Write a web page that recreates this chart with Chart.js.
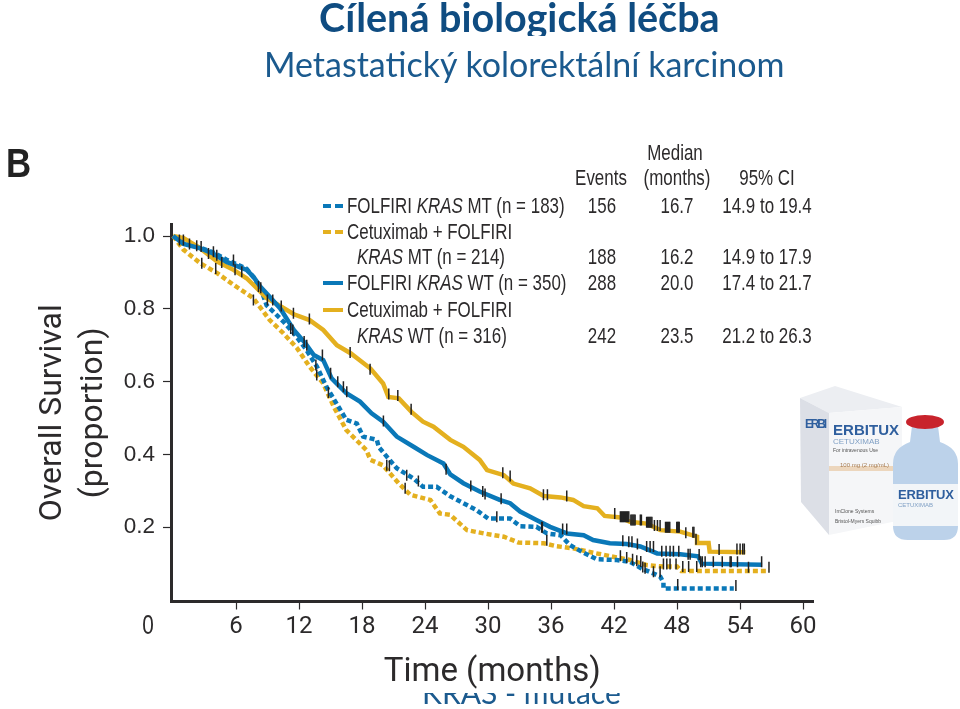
<!DOCTYPE html>
<html lang="cs">
<head>
<meta charset="utf-8">
<title>Cílená biologická léčba</title>
<script src="https://cdn.jsdelivr.net/npm/chart.js@4"></script>
<style>
  html, body { margin: 0; padding: 0; background: #fff; overflow: hidden; }
  #page { position: relative; width: 960px; height: 709px; overflow: hidden; }
  #chart { position: absolute; left: 0; top: 0; }
  .clip { position: absolute; overflow: hidden; white-space: nowrap; }
  .head { font-family: Lato, sans-serif; color: #0f4c81; }
  .txt { position: absolute; white-space: nowrap; font-family: "Liberation Sans", sans-serif; font-size: 22px; line-height: 24px; color: #2c2a2b; transform-origin: left center; transform: translateY(-50%) scaleX(.77); }
  .mid { transform-origin: center center; transform: translate(-50%, -50%) scaleX(.77); }
  .swatch { position: absolute; width: 20px; height: 0; }
</style>
</head>
<body>
<div id="page">
  <canvas id="chart" width="960" height="709"></canvas>

  <div class="clip head" style="left:319px;top:0;width:420px;height:36px;font-size:39.5px;font-weight:700;line-height:34px;">Cílená biologická léčba</div>
  <div class="clip head" style="left:264px;top:42px;width:540px;height:46px;font-size:34px;line-height:44px;color:#1b5a8e;">Metastatický kolorektální karcinom</div>
  <div class="clip head" style="left:422px;top:693px;width:200px;height:12px;"><span style="position:absolute;left:0;top:-18px;font-size:30px;line-height:34px;color:#1b5a8e;">KRAS - mutace</span></div>

  <div class="txt" style="left:6px;top:163px;font-weight:700;font-size:41px;line-height:44px;color:#222;transform:translateY(-50%) scaleX(.85);">B</div>

  <div id="legend"></div>

  <svg style="position:absolute;left:790px;top:380px;" width="170" height="170" viewBox="0 0 170 170">
    <polygon points="10,18 45,6 112,27 39,33" fill="#eceef2"/>
    <polygon points="10,18 39,33 39,155 11,122" fill="#dcdfe6"/>
    <polygon points="39,33 112,27 112,140 39,155" fill="#f5f6f8"/>
    <rect x="39" y="86" width="73" height="5" fill="#ecd6bd"/>
    <text x="15" y="48" font-family="Liberation Sans, sans-serif" font-weight="700" font-size="12" fill="#2f5f9e" textLength="22">ERBI</text>
    <text x="43" y="55" font-family="Liberation Sans, sans-serif" font-weight="700" font-size="15" fill="#2f5f9e" textLength="66">ERBITUX</text>
    <text x="43" y="64" font-family="Liberation Sans, sans-serif" font-size="8" fill="#7f9fc4">CETUXIMAB</text>
    <text x="43" y="72" font-family="Liberation Sans, sans-serif" font-size="5" fill="#555">For intravenous Use</text>
    <text x="50" y="87" font-family="Liberation Sans, sans-serif" font-size="6" fill="#a67c52">100 mg (2 mg/mL)</text>
    <text x="45" y="133" font-family="Liberation Sans, sans-serif" font-size="5" fill="#555">ImClone Systems</text>
    <text x="45" y="143" font-family="Liberation Sans, sans-serif" font-size="5" fill="#555">Bristol-Myers Squibb</text>
    <path d="M122 46 L148 46 L150 62 Q168 68 168 84 L168 146 Q168 160 154 160 L118 160 Q103 160 103 146 L103 84 Q103 68 120 62 Z" fill="#bcd2ea"/>
    <rect x="103" y="104" width="65" height="42" fill="#f2f5f8"/>
    <text x="108" y="119" font-family="Liberation Sans, sans-serif" font-weight="700" font-size="13" fill="#2f5f9e" textLength="56">ERBITUX</text>
    <text x="108" y="127" font-family="Liberation Sans, sans-serif" font-size="6" fill="#7f9fc4">CETUXIMAB</text>
    <ellipse cx="135" cy="42" rx="19" ry="7" fill="#c8232c"/>
  </svg>
</div>

<script>
const xTicks = [0, 6, 12, 18, 24, 30, 36, 42, 48, 54, 60];
const yTicks = [0.2, 0.4, 0.6, 0.8, 1.0];

const seriesNames = ['FOLFIRI KRAS MT', 'Cetuximab + FOLFIRI KRAS MT', 'FOLFIRI KRAS WT', 'Cetuximab + FOLFIRI KRAS WT'];

// [months, proportion]
const folfiriMt = [[0,1],[1,.98],[2.6,.968],[3.8,.955],[5.1,.935],[7,.91],[7.7,.885],[8.3,.86],[8.9,.81],[10.5,.765],[11.5,.733],[12.7,.687],[13.7,.641],[14.6,.586],[15.75,.531],[16.5,.495],[17.5,.485],[18.1,.449],[19.4,.44],[19.6,.42],[20.35,.394],[21.3,.362],[22.9,.334],[23.8,.311],[25.1,.311],[26.4,.285],[27.65,.266],[28.9,.247],[30,.224],[32.1,.224],[33.05,.203],[34.6,.201],[35.6,.183],[36.9,.178],[37.8,.151],[39.1,.13],[40.35,.112],[42.25,.11],[43.5,.105],[44.6,.087],[45.75,.073],[46.4,.064],[46.7,.048],[46.7,.032],[53.4,.032]];
const cetuxMt = [[0,1],[1,.962],[2.6,.925],[4.2,.898],[5.75,.866],[7.65,.829],[9.2,.769],[10.5,.733],[11.8,.692],[13,.641],[14.3,.595],[15.3,.531],[16.5,.467],[18.4,.412],[18.8,.385],[20,.37],[21.5,.32],[22.6,.289],[24.5,.275],[25.4,.238],[26.4,.234],[27.3,.21],[28,.192],[29.6,.183],[31.5,.174],[32.9,.158],[35.3,.156],[36.5,.148],[38.1,.142],[40,.13],[41.9,.119],[43.5,.11],[45.1,.096],[46.7,.092],[48,.092],[48.4,.08],[56.7,.08]];
const folfiriWt = [[0,1],[1,.978],[2.6,.966],[3.8,.952],[5.1,.929],[7,.907],[7.65,.888],[8.3,.861],[9.2,.833],[10.2,.801],[11.5,.742],[12.6,.705],[13.4,.673],[14.3,.659],[15.1,.609],[16.5,.568],[17.8,.545],[18.9,.513],[20,.49],[21.3,.449],[22.9,.421],[24.2,.398],[25.75,.375],[26.4,.345],[27.65,.321],[29.2,.298],[31.1,.275],[32.1,.266],[33.05,.243],[34.6,.22],[35.9,.201],[37.5,.183],[39.1,.178],[40,.165],[41.6,.156],[43.2,.154],[44.5,.147],[46.1,.128],[48.3,.126],[50,.12],[50.35,.1],[56.1,.097]];
const cetuxWt = [[0,1],[1,.994],[2.6,.966],[4.2,.93],[5.75,.907],[7,.884],[8,.856],[8.9,.83],[10.35,.805],[11.5,.785],[13,.769],[14.3,.742],[15.6,.7],[16.9,.678],[18.8,.636],[20,.595],[20.5,.558],[21.5,.554],[22.7,.517],[23.8,.49],[24.8,.476],[26.4,.44],[27.65,.421],[29.2,.385],[29.9,.357],[31.5,.343],[32.4,.32],[34,.307],[35.3,.286],[36.9,.282],[38.1,.275],[39.1,.258],[40.4,.252],[41.1,.231],[42.6,.227],[43.5,.215],[45.1,.21],[46.4,.192],[48.3,.188],[49.9,.174],[49.9,.157],[51,.157],[51.1,.133],[54.5,.131]];

// censor ticks
const censored = [[.6,.989],[.98,.989],[1.56,.978],[2.25,.973],[2.67,.971],[2.73,.925],[3.37,.952],[3.84,.957],[4.16,.947],[4.06,.911],[4.63,.927],[5.75,.934],[5.9,.907],[6.54,.902],[8.13,.861],[8.35,.858],[7.65,.824],[8.98,.824],[9.49,.824],[10.3,.808],[11.46,.788],[12.98,.772],[11.2,.746],[11.4,.742],[12.48,.71],[12.73,.7],[14.22,.673],[13.6,.646],[13.68,.618],[15,.623],[15.68,.6],[16.22,.586],[16.54,.572],[14.79,.57],[16.86,.68],[18.76,.634],[20.54,.566],[21.4,.562],[22.67,.524],[20.03,.492],[20.35,.37],[20.6,.369],[22.25,.343],[23.36,.327],[22.1,.307],[26,.359],
  [31.4,.35],[32.1,.341],[35.27,.289],[35.65,.289],[37.49,.286],[42.06,.238],[42.6,.229],[42.7,.229],[42.8,.229],[42.9,.229],[43,.229],[43.1,.229],[43.2,.229],[43.3,.229],[43.4,.229],[43.6,.22],[43.7,.22],[43.8,.22],[43.9,.22],[44,.22],[44.5,.22],[44.6,.22],[45.1,.214],[45.2,.214],[45.3,.214],[45.4,.214],[45.5,.214],[45.6,.214],[45.84,.205],[46.13,.205],[46.38,.205],[46.9,.2],[47,.2],[47.1,.2],[47.2,.2],[47.3,.2],[47.97,.2],[48.05,.2],[48.13,.2],[48.2,.2],[48.83,.185],[49.5,.186],[49.6,.186],[49.8,.167],[52,.139],[53.7,.14],[54,.14],[54.25,.14],[54.4,.14],
  [28.35,.313],[29.49,.298],[29.71,.291],[31.24,.278],[35.1,.2],[37.1,.195],[37.49,.195],[42.83,.163],[43.4,.16],[43.7,.16],[44.22,.154],[45.1,.147],[45.43,.147],[45.75,.147],[46.54,.134],[46.95,.134],[47.33,.134],[47.65,.134],[48.16,.134],[49.05,.126],[49.24,.126],[50.1,.125],[50.25,.105],[50.4,.105],[50.67,.105],[51.45,.105],[52.3,.105],[53.05,.105],[53.15,.105],[53.75,.105],[56.05,.105],
  [30.83,.229],[35.17,.2],[35.59,.164],[42.6,.122],[43.2,.117],[43.76,.112],[44.16,.108],[44.54,.106],[44.73,.091],[44.95,.087],[45.75,.078],[46.38,.078],[48.06,.043],[53.6,.04],[46.7,.099],[47.02,.099],[47.33,.099],[47.9,.099],[48.54,.092],[49.1,.092],[49.87,.092],[54.8,.09],[56.75,.09]];

// legend table
const legendRows = [
  ['FOLFIRI <i>KRAS</i> MT (n = 183)', '156', '16.7', '14.9 to 19.4'],
  ['Cetuximab + FOLFIRI', '', '', ''],
  ['<i>KRAS</i> MT (n = 214)', '188', '16.2', '14.9 to 17.9'],
  ['FOLFIRI <i>KRAS</i> WT (n = 350)', '288', '20.0', '17.4 to 21.7'],
  ['Cetuximab + FOLFIRI', '', '', ''],
  ['<i>KRAS</i> WT (n = 316)', '242', '23.5', '21.2 to 26.3'],
];
const legendY = [206, 232, 257, 283, 310, 336];
const legendX = [347, 347, 357, 347, 347, 357];
const swatchRows = [[0, 'dashed', '#0a78b8'], [1, 'dashed', '#e4b01f'], [3, 'solid', '#0a78b8'], [4, 'solid', '#e4b01f']];

const legendEl = document.getElementById('legend');
function addText(html, x, y, cls) {
  const el = document.createElement('div');
  el.className = 'txt ' + (cls || '');
  el.style.left = x + 'px';
  el.style.top = y + 'px';
  el.innerHTML = html;
  legendEl.appendChild(el);
  return el;
}
addText('Median', 675, 153, 'mid');
addText('Events', 601, 178, 'mid');
addText('(months)', 677, 178, 'mid');
addText('95% CI', 767, 178, 'mid');
legendRows.forEach((row, i) => {
  addText(row[0], legendX[i], legendY[i]);
  if (row[1]) {
    addText(row[1], 602, legendY[i], 'mid');
    addText(row[2], 677, legendY[i], 'mid');
    addText(row[3], 767, legendY[i], 'mid');
  }
});
swatchRows.forEach(([row, style, color]) => {
  const sw = document.createElement('div');
  sw.className = 'swatch';
  sw.style.left = '323px';
  sw.style.top = (legendY[row] - 2) + 'px';
  sw.style.borderTop = `4px ${style} ${color}`;
  legendEl.appendChild(sw);
});
// the zero label sits left of the axis in the source figure
addText(String(xTicks[0]), 148, 625, 'mid').style.fontSize = '27px';

const toPoints = rows => rows.map(([x, y]) => ({ x, y }));
const blue = '#0a78b8';
const gold = '#e4b01f';
const axisColor = '#2c2a2b';

function curve(label, rows, color, dashed, order) {
  return {
    label,
    data: toPoints(rows),
    borderColor: color,
    backgroundColor: color,
    borderWidth: 4.5,
    borderDash: dashed ? [5, 3] : [],
    borderCapStyle: 'butt',
    pointRadius: 0,
    tension: 0,
    order,
  };
}

new Chart(document.getElementById('chart'), {
  type: 'line',
  data: {
    datasets: [
      {
        label: 'Censored',
        data: toPoints(censored),
        showLine: false,
        pointStyle: 'line',
        rotation: 90,
        pointRadius: 5.5,
        pointBorderWidth: 1.5,
        pointBorderColor: '#222',
        borderColor: '#222',
        order: 0,
      },
      curve(seriesNames[0], folfiriMt, blue, true, 3),
      curve(seriesNames[2], folfiriWt, blue, false, 1),
      curve(seriesNames[1], cetuxMt, gold, true, 4),
      curve(seriesNames[3], cetuxWt, gold, false, 2),
    ],
  },
  options: {
    responsive: false,
    animation: false,
    devicePixelRatio: 1,
    layout: { padding: { left: 32, right: 146.4, top: 224, bottom: 16.5 } },
    plugins: { legend: { display: false }, tooltip: { enabled: false } },
    scales: {
      x: {
        type: 'linear',
        min: -0.2,
        max: 61,
        afterBuildTicks: s => { s.ticks = xTicks.filter(v => v > 0).map(value => ({ value })); },
        afterFit: s => { s.height = 91; },
        grid: { drawOnChartArea: false, tickLength: 8, tickColor: axisColor, tickWidth: 1.2 },
        border: { color: axisColor, width: 3 },
        ticks: {
          autoSkip: false,
          maxRotation: 0,
          padding: 3,
          color: axisColor,
          font: { family: 'Roboto, sans-serif', size: 24 },
        },
        title: { display: true, text: 'Time (months)', color: axisColor, padding: 0, font: { family: 'Roboto, sans-serif', size: 33 } },
      },
      y: {
        type: 'linear',
        min: -0.004,
        max: 1.033,
        afterBuildTicks: s => { s.ticks = yTicks.map(value => ({ value })); },
        afterFit: s => { s.width = 139; },
        grid: { drawOnChartArea: false, tickLength: 8, tickColor: axisColor, tickWidth: 1.2 },
        border: { color: axisColor, width: 3 },
        ticks: {
          padding: 8,
          color: axisColor,
          font: { family: '"Liberation Sans", sans-serif', size: 22.5 },
          callback: v => v.toFixed(1),
        },
        title: {
          display: true,
          text: ['Overall Survival', '(proportion)'],
          color: axisColor,
          padding: 0,
          font: { family: 'Roboto, sans-serif', size: 32, lineHeight: 1.3 },
        },
      },
    },
  },
});
</script>
</body>
</html>
